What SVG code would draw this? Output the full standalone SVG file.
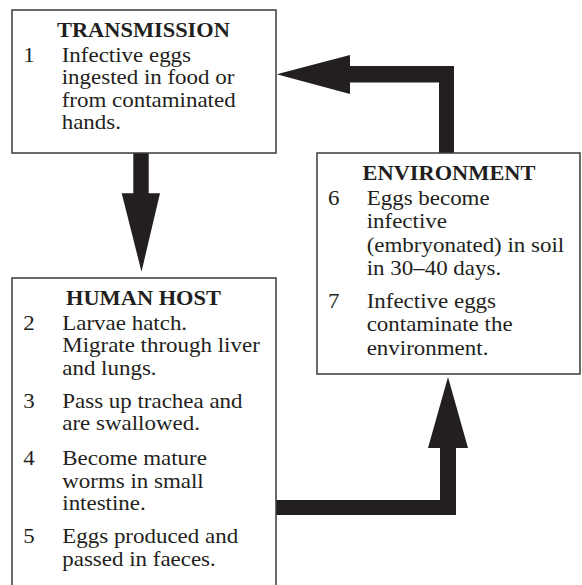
<svg xmlns="http://www.w3.org/2000/svg" width="582" height="585" viewBox="0 0 582 585">
<style>
.box{fill:#fff;stroke:#3a3a3a;stroke-width:1.5}
.arr{fill:#231f20}
text{font-family:"Liberation Serif","Times New Roman",serif;fill:#231f20}
.t{font-size:20px;font-weight:bold;text-anchor:middle}
.b{font-size:20.5px}
</style>
<rect x="0" y="0" width="582" height="585" fill="#fff"/>
<g id="connectors">
<polygon class="arr" points="133.3,153 148.7,153 148.7,193.3 160,193.3 141.5,271.7 121.7,193.3 133.3,193.3"/>
<polygon class="arr" points="454,153 439,153 439,82.5 350,82.5 350,94 276.7,74.3 350,55 350,66 454,66"/>
<polygon class="arr" points="276,500 440,500 440,448 428,448 448,377 468,448 456,448 456,515 276,515"/>
</g>
<g id="transmission">
<rect class="box" x="12" y="10" width="264" height="143"/>
<g transform="scale(1.12,1)">
<text class="t" x="128.1" y="37">TRANSMISSION</text>
<text class="b" x="20.8" y="62">1</text>
<text class="b" x="55.1" y="62">Infective eggs</text>
<text class="b" x="55.1" y="84.5">ingested in food or</text>
<text class="b" x="55.1" y="107">from contaminated</text>
<text class="b" x="55.1" y="129.5">hands.</text>
</g>
</g>
<g id="human-host">
<rect class="box" x="12" y="278" width="264" height="320"/>
<g transform="scale(1.12,1)">
<text class="t" x="128.1" y="305">HUMAN HOST</text>
<text class="b" x="20.8" y="330">2</text>
<text class="b" x="55.6" y="330">Larvae hatch.</text>
<text class="b" x="55.6" y="352.5">Migrate through liver</text>
<text class="b" x="55.6" y="375">and lungs.</text>
<text class="b" x="20.8" y="408">3</text>
<text class="b" x="55.6" y="408">Pass up trachea and</text>
<text class="b" x="55.6" y="430.5">are swallowed.</text>
<text class="b" x="20.8" y="465">4</text>
<text class="b" x="55.6" y="465">Become mature</text>
<text class="b" x="55.6" y="488">worms in small</text>
<text class="b" x="55.6" y="510.5">intestine.</text>
<text class="b" x="20.8" y="543">5</text>
<text class="b" x="55.6" y="543">Eggs produced and</text>
<text class="b" x="55.6" y="566">passed in faeces.</text>
</g>
</g>
<g id="environment">
<rect class="box" x="317" y="153" width="263" height="221"/>
<g transform="scale(1.12,1)">
<text class="t" x="400.9" y="180.5">ENVIRONMENT</text>
<text class="b" x="292.9" y="205">6</text>
<text class="b" x="327.4" y="205">Eggs become</text>
<text class="b" x="327.4" y="228.5">infective</text>
<text class="b" x="327.4" y="252">(embryonated) in soil</text>
<text class="b" x="327.4" y="275.5">in 30–40 days.</text>
<text class="b" x="292.9" y="308">7</text>
<text class="b" x="327.4" y="308">Infective eggs</text>
<text class="b" x="327.4" y="331.5">contaminate the</text>
<text class="b" x="327.4" y="355">environment.</text>
</g>
</g>
</svg>
